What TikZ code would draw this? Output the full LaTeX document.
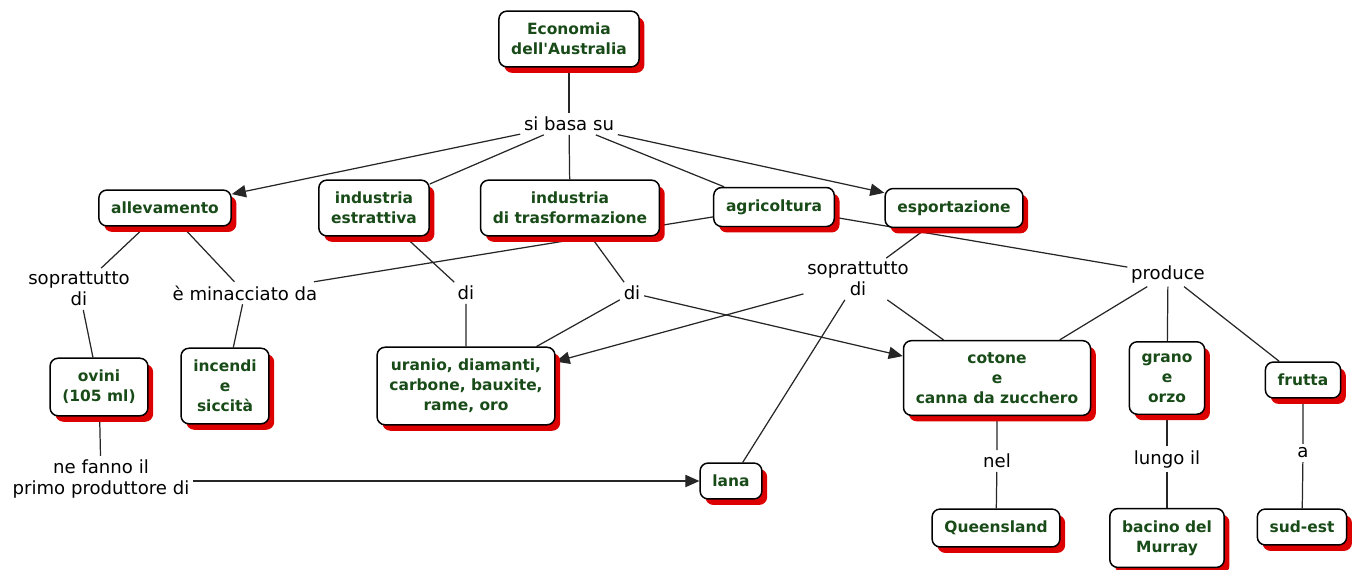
\documentclass[tikz,border=0pt]{standalone}
\usepackage{fontspec}
\setmainfont{DejaVu Sans}
\usepackage{xcolor}
\usepackage{tikz}
\usetikzlibrary{arrows.meta, shadows, backgrounds}
\definecolor{cmgreen}{RGB}{25,75,25}
\definecolor{cmred}{RGB}{220,0,0}

\begin{document}
\begin{tikzpicture}[x=0.02cm, y=-0.02cm,
        concept/.style={draw, line width=0.85pt, rounded corners=4.5pt, fill=white, align=center,
            text=cmgreen, font=\fontsize{8.8}{11.3}\selectfont\bfseries, inner xsep=7pt, inner ysep=6.8pt,
            drop shadow={shadow xshift=3pt, shadow yshift=-3.4pt, fill=cmred, opacity=1}},
        phrase/.style={align=center, font=\fontsize{10.3}{12}\selectfont, inner sep=2pt},
        link/.style={draw=black!85, line width=0.7pt},
        arr/.style={link, -{Triangle[length=8pt, width=7pt]}}]
        \useasboundingbox (0,0) rectangle (1359,569);

        \node (econ) at (569,39) [concept] {Economia\\dell\textquotesingle Australia};
        \node (allev) at (165,208) [concept] {allevamento};
        \node (estr) at (374,208) [concept] {industria\\estrattiva};
        \node (trasf) at (570,208) [concept] {industria\\di trasformazione};
        \node (agri) at (774,207) [concept] {agricoltura};
        \node (esport) at (954,208) [concept] {esportazione};
        \node (ovini) at (99,387) [concept] {ovini\\(105 ml)};
        \node (incendi) at (225,386) [concept] {incendi\\e\\siccità};
        \node (uranio) at (466,386) [concept] {uranio, diamanti,\\carbone, bauxite,\\rame, oro};
        \node (cotone) at (997,378) [concept] {cotone\\e\\canna da zucchero};
        \node (grano) at (1167,378) [concept] {grano\\e\\orzo};
        \node (frutta) at (1303,380) [concept] {frutta};
        \node (lana) at (731,481) [concept] {lana};
        \node (queens) at (996,528) [concept] {Queensland};
        \node (bacino) at (1167,538) [concept] {bacino del\\Murray};
        \node (sudest) at (1302,527) [concept] {sud-est};

        \node (sibasa) at (569,124) [phrase] {si basa su};
        \node (sopr1) at (79,289) [phrase] {soprattutto\\di};
        \node (minacc) at (245,293) [phrase] {è minacciato da};
        \node (di1) at (466,293) [phrase] {di};
        \node (di2) at (632,293) [phrase] {di};
        \node (sopr2) at (858,279) [phrase] {soprattutto\\di};
        \node (produce) at (1168,274) [phrase] {produce};
        \node (nefanno) at (101,479) [phrase] {ne fanno il\\primo produttore di};
        \node (nel) at (997,461) [phrase] {nel};
        \node (lungo) at (1167,459) [phrase] {lungo il};
        \node (a) at (1303,453) [phrase] {a};

        \begin{scope}[on background layer]
        \draw[link] (econ) -- (sibasa);
        \draw[arr] (sibasa) -- (allev);
        \draw[link] (sibasa) -- (estr);
        \draw[link] (sibasa) -- (trasf);
        \draw[link] (sibasa) -- (agri);
        \draw[arr] (sibasa) -- (esport);
        \draw[link] (allev) -- (sopr1) -- (ovini);
        \draw[link] (allev) -- (minacc) -- (incendi);
        \draw[link] (agri) -- (minacc);
        \draw[link] (estr) -- (di1) -- (uranio);
        \draw[link] (trasf) -- (di2) -- (uranio);
        \draw[arr] (di2) -- (cotone);
        \draw[link] (esport) -- (sopr2);
        \draw[arr] (sopr2) -- (uranio);
        \draw[link] (sopr2) -- (lana);
        \draw[link] (sopr2) -- (cotone);
        \draw[link] (agri) -- (produce);
        \draw[link] (produce) -- (cotone);
        \draw[link] (produce) -- (grano);
        \draw[link] (produce) -- (frutta);
        \draw[link] (ovini) -- (nefanno);
        \draw[arr] (nefanno.east |- lana.west) -- (lana.west);
        \draw[link] (cotone) -- (nel) -- (queens);
        \draw[link] (grano) -- (lungo) -- (bacino);
        \draw[link] (frutta) -- (a) -- (sudest);
        \end{scope}
    \end{tikzpicture}
\end{document}
